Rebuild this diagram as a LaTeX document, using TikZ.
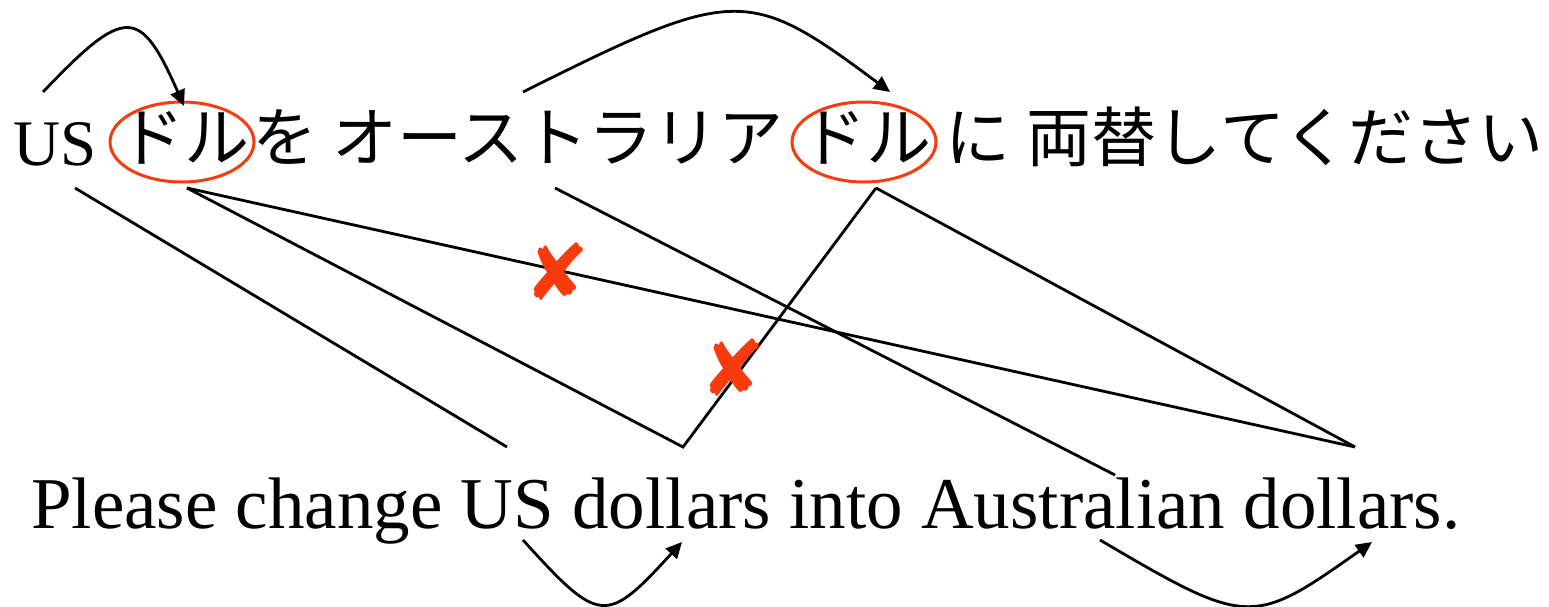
\documentclass[tikz,border=0pt]{standalone}
\usepackage{fontspec}
\setmainfont{Liberation Serif}
\newfontfamily\jpfont{Noto Sans CJK JP}
\newfontfamily\symfont{DejaVu Sans}
\usetikzlibrary{arrows.meta,shapes.geometric}
\definecolor{markred}{RGB}{248,58,12}
\begin{document}
\begin{tikzpicture}[x=1pt,y=-1pt,
  jp/.style={font=\jpfont\fontsize{65}{65}\selectfont, inner sep=0pt, anchor=base},
  en/.style={font=\fontsize{73}{73}\selectfont, inner sep=0pt, anchor=base west},
  enus/.style={font=\fontsize{65}{65}\selectfont, inner sep=0pt, anchor=base west},
  link/.style={line width=2.8pt, line join=miter},
  hop/.style={line width=2.8pt, -{Triangle[length=16pt,width=15pt]}},
  ring/.style={draw=markred, line width=3pt, ellipse, minimum width=144pt, minimum height=80pt, inner sep=0pt},
  cross/.style={text=markred, font=\symfont\fontsize{78}{78}\selectfont, inner sep=0pt}]
\useasboundingbox (0,0) rectangle (1549,606);
% top line
\node[enus] (tUS) at (13,165) {US};
\node[jp] (tDoru1) at (184,161) {ドル};
\node[jp] (tWo) at (285,161) {を};
\node[jp] (tAus) at (558,161) {オーストラリア};
\node[jp] (tDoru2) at (866,161) {ドル};
\node[jp] (tNi) at (978,161) {に};
\node[jp] (tRest) at (1285,161) {両替してください};
\node[ring] (ring1) at (182,142) {};
\node[ring] (ring2) at (864,142) {};
% bottom line
\node[en] (bottom) at (31,528) {Please change US dollars into Australian dollars.};
% anchor points of the links
\coordinate (jUS) at (75,188);
\coordinate (jDoru1) at (187,188);
\coordinate (jAus) at (555,188);
\coordinate (jDoru2) at (876,188);
\coordinate (eUS) at (507,447);
\coordinate (eDollars1) at (683,447);
\coordinate (eAus) at (1115,475);
\coordinate (eDollars2) at (1355,447);
\draw[link] (jUS) -- (eUS);
\draw[link] (jDoru1) -- (eDollars1) -- (jDoru2);
\draw[link] (jDoru1) -- (eDollars2);
\draw[link] (jDoru2) -- (eDollars2);
\draw[link] (jAus) -- (eAus);
% reordering arrows
\coordinate (a1s) at (43,92);
\coordinate (a1e) at (184,106);
\coordinate (a2s) at (523,92);
\coordinate (a2e) at (890,92);
\coordinate (b1s) at (523,540);
\coordinate (b1e) at (682,542);
\coordinate (b2s) at (1100,540);
\coordinate (b2e) at (1372,542);
\draw[hop] (a1s) .. controls (125,6) and (140,6) .. (a1e);
\draw[hop] (a2s) .. controls (735,-14) and (748,-14) .. (a2e);
\draw[hop] (b1s) .. controls (600,625) and (606,625) .. (b1e);
\draw[hop] (b2s) .. controls (1248,627) and (1252,627) .. (b2e);
% crosses
\node[cross] (x1) at (557,272) {✘};
\node[cross] (x2) at (733,368) {✘};
\end{tikzpicture}
\end{document}
